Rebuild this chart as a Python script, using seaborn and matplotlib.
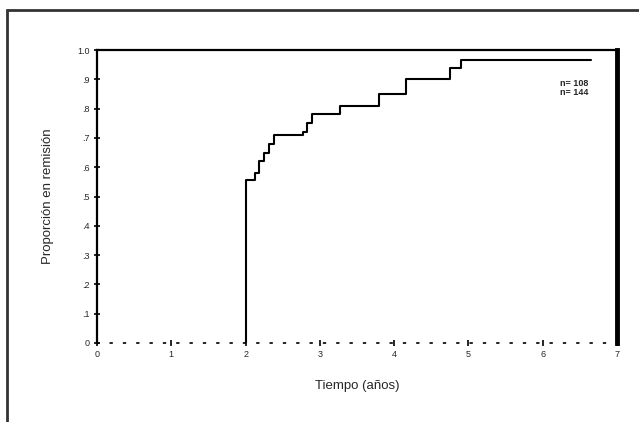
import matplotlib
matplotlib.use("Agg")
import matplotlib.pyplot as plt
from matplotlib.patches import Rectangle
import seaborn as sns
import pandas as pd

# Data (step curve)
times = [2.0, 2.0, 2.13, 2.18, 2.25, 2.32, 2.38, 2.77, 2.83, 2.90, 3.27, 3.79, 4.16, 4.75, 4.90, 6.65]
values = [0.0, 0.556, 0.58, 0.62, 0.65, 0.68, 0.71, 0.72, 0.75, 0.78, 0.81, 0.85, 0.90, 0.94, 0.966, 0.966]
x_ticks = [0, 1, 2, 3, 4, 5, 6, 7]
x_ticklabels = ["0", "1", "2", "3", "4", "5", "6", "7"]
y_ticks = [0.0, 0.1, 0.2, 0.3, 0.4, 0.5, 0.6, 0.7, 0.8, 0.9, 1.0]
y_ticklabels = ["0", ".1", ".2", ".3", ".4", ".5", ".6", ".7", ".8", ".9", "1.0"]
legend_lines = ["n= 108", "n= 144"]

sns.set_style("ticks")
plt.rcParams["font.family"] = ["Liberation Sans", "DejaVu Sans"]

df = pd.DataFrame({"t": times, "p": values})

fig = plt.figure(figsize=(6.39, 4.22), dpi=100)
ax = fig.add_axes([97/639, 1 - 343/422, 520/639, 293/422])

sns.lineplot(data=df, x="t", y="p", ax=ax, estimator=None, sort=False,
             drawstyle="steps-post", color="black", linewidth=1.5)

ax.set_xlim(0, 7)
ax.set_ylim(0, 1.0)
ax.set_xticks(x_ticks)
ax.set_xticklabels(x_ticklabels, fontsize=6.5)
ax.set_yticks(y_ticks)
ax.set_yticklabels(y_ticklabels, fontsize=6.5)
ax.tick_params(axis="both", direction="inout", length=4, width=1.2, color="black", pad=3)

for s in ["top", "left"]:
    ax.spines[s].set_linewidth(1.6)
    ax.spines[s].set_color("black")
ax.spines["right"].set_visible(True)
ax.spines["right"].set_linewidth(3.5)
ax.spines["right"].set_color("black")
ax.spines["bottom"].set_linewidth(1.2)
ax.spines["bottom"].set_linestyle((0, (1, 7)))
ax.spines["bottom"].set_color("black")

ax.set_xlabel("Tiempo (años)", fontsize=9.5, labelpad=15)
ax.set_ylabel("Proporción en remisión", fontsize=9.5, labelpad=17)

ax.text(0.945, 0.90, "\n".join(legend_lines), transform=ax.transAxes,
        ha="right", va="top", fontsize=6.5, fontweight="bold", linespacing=1.0)

fig.patches.append(Rectangle((7/639, -0.05), 1.0, 1 - 10/422 + 0.05,
                             transform=fig.transFigure, fill=False,
                             edgecolor="#333333", linewidth=2.0))

fig.savefig("out.png", dpi=100)
